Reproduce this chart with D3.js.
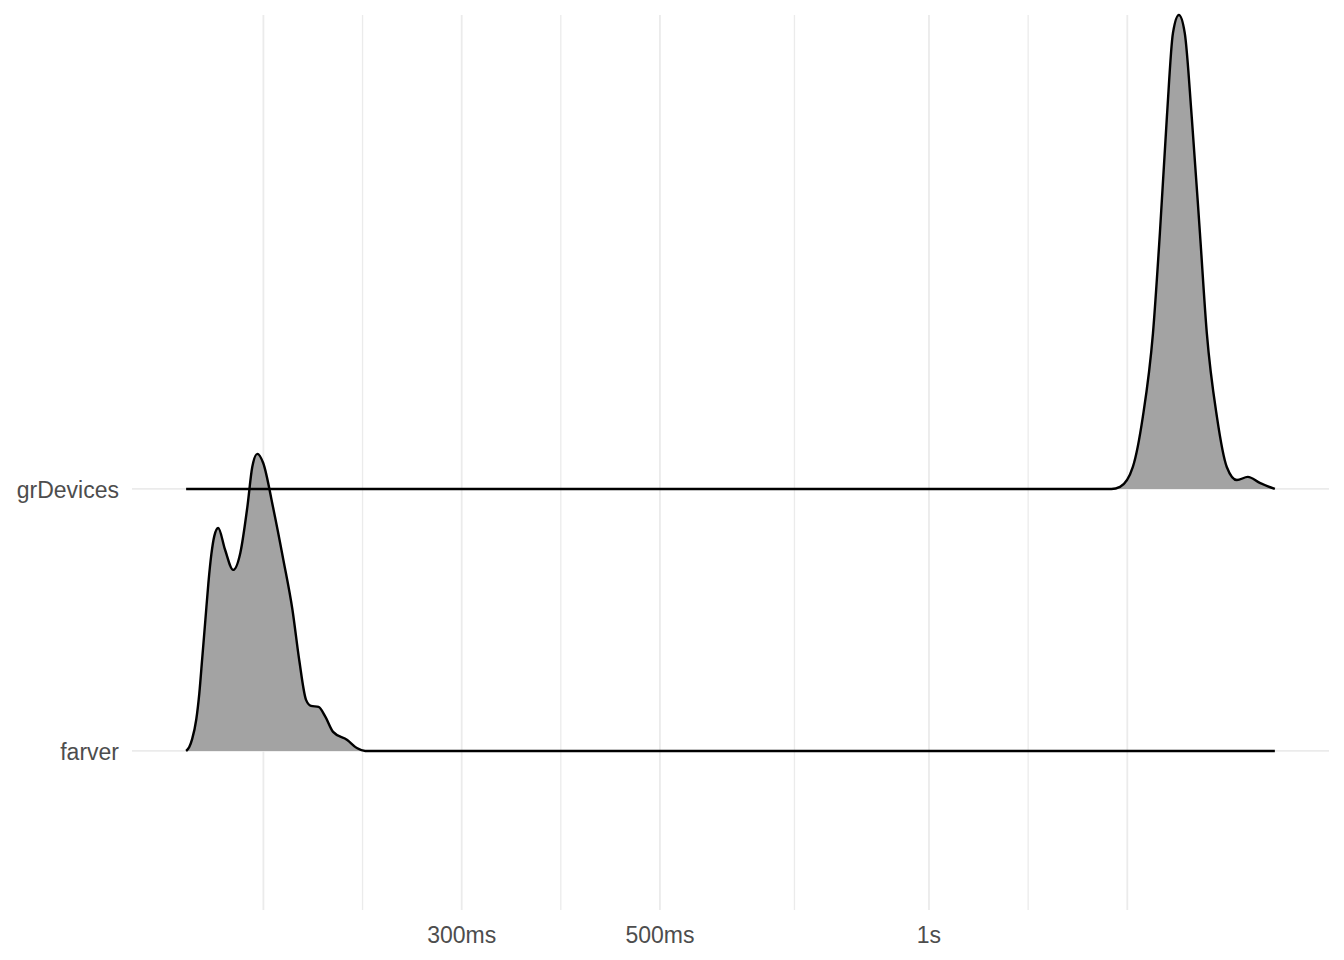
<!DOCTYPE html>
<html>
<head>
<meta charset="utf-8">
<script src="https://cdn.jsdelivr.net/npm/d3@7"></script>
<style>
  body { margin: 0; background: #fff; }
  text { font-family: "Liberation Sans", Arial, sans-serif; }
</style>
</head>
<body>
<div id="chart"></div>
<script>
var w = 1344, h = 960;

// categories, bottom to top
var groups = ["farver", "grDevices"];

// ridge outlines: [time in seconds, scaled height in row units]
var farverTime = [0.1475, 0.1487, 0.1498, 0.1514, 0.1526, 0.1538, 0.1550, 0.1562, 0.1574, 0.1586,
  0.1602, 0.1631, 0.1665, 0.1696, 0.1727, 0.1749, 0.1772, 0.1799, 0.1845, 0.1895, 0.1940,
  0.1974, 0.2009, 0.2035, 0.2075, 0.2112, 0.2154, 0.2234, 0.2290, 0.2340, 2.438];
var farverHeight = [0, 0.015, 0.045, 0.12, 0.22, 0.36, 0.50, 0.64, 0.75, 0.82,
  0.851, 0.767, 0.691, 0.756, 0.931, 1.084, 1.134, 1.099, 0.931, 0.729, 0.538,
  0.347, 0.195, 0.172, 0.168, 0.130, 0.073, 0.042, 0.011, 0, 0];

var grDevicesTime = [0.1475, 1.600, 1.636, 1.691, 1.735, 1.781, 1.813, 1.846, 1.875, 1.904,
  1.933, 1.968, 2.010, 2.046, 2.100, 2.154, 2.211, 2.274, 2.345, 2.438];
var grDevicesHeight = [0, 0, 0.008, 0.084, 0.275, 0.595, 0.977, 1.420, 1.740, 1.809,
  1.740, 1.420, 0.977, 0.595, 0.275, 0.084, 0.034, 0.046, 0.023, 0];

// x axis breaks
var tickValues = [0.18, 0.3, 0.5, 1, 1.667];
var tickLabels = ["", "300ms", "500ms", "1s", ""];

var series = [
  { name: "farver", time: farverTime, height: farverHeight },
  { name: "grDevices", time: grDevicesTime, height: grDevicesHeight }
];

var panelLeft = 132, panelRight = 1329, panelTop = 15, panelBottom = 910;

var x = d3.scaleLog().domain([0.1283, 2.803]).range([panelLeft, panelRight]);
var y = d3.scaleLinear().domain([0.393, 3.809]).range([panelBottom, panelTop]);

var svg = d3.select("#chart").append("svg")
  .attr("width", w)
  .attr("height", h);

// minor breaks: midpoints in log space
var minor = [];
for (var i = 0; i < tickValues.length - 1; i++) {
  minor.push(Math.sqrt(tickValues[i] * tickValues[i + 1]));
}

svg.append("g").selectAll("line")
  .data(minor)
  .enter().append("line")
  .attr("x1", function(d) { return x(d); })
  .attr("x2", function(d) { return x(d); })
  .attr("y1", panelTop).attr("y2", panelBottom)
  .attr("stroke", "#ebebeb").attr("stroke-width", 1.3);

svg.append("g").selectAll("line")
  .data(tickValues)
  .enter().append("line")
  .attr("x1", function(d) { return x(d); })
  .attr("x2", function(d) { return x(d); })
  .attr("y1", panelTop).attr("y2", panelBottom)
  .attr("stroke", "#ebebeb").attr("stroke-width", 1.8);

svg.append("g").selectAll("line")
  .data(groups)
  .enter().append("line")
  .attr("x1", panelLeft).attr("x2", panelRight)
  .attr("y1", function(d, i) { return y(i + 1); })
  .attr("y2", function(d, i) { return y(i + 1); })
  .attr("stroke", "#ebebeb").attr("stroke-width", 1.8);

// ridges
series.forEach(function(s, gi) {
  var pts = s.time.map(function(t, k) { return [t, s.height[k]]; });
  var base = gi + 1;
  var area = d3.area()
    .x(function(d) { return x(d[0]); })
    .y0(y(base))
    .y1(function(d) { return y(base + d[1]); })
    .curve(d3.curveMonotoneX);
  var line = d3.line()
    .x(function(d) { return x(d[0]); })
    .y(function(d) { return y(base + d[1]); })
    .curve(d3.curveMonotoneX);
  svg.append("path").datum(pts)
    .attr("d", area)
    .attr("fill", "#a3a3a3");
  svg.append("path").datum(pts)
    .attr("d", line)
    .attr("fill", "none")
    .attr("stroke", "#000")
    .attr("stroke-width", 2.4)
    .attr("stroke-linejoin", "round");
});

// y labels
svg.append("g").selectAll("text")
  .data(groups)
  .enter().append("text")
  .attr("x", 119)
  .attr("y", function(d, i) { return y(i + 1) + 1; })
  .attr("dy", "0.35em")
  .attr("text-anchor", "end")
  .attr("font-size", 23)
  .attr("fill", "#4d4d4d")
  .text(function(d) { return d; });

// x labels
svg.append("g").selectAll("text")
  .data(tickValues)
  .enter().append("text")
  .attr("x", function(d) { return x(d); })
  .attr("y", 935)
  .attr("dy", "0.35em")
  .attr("text-anchor", "middle")
  .attr("font-size", 23)
  .attr("fill", "#4d4d4d")
  .text(function(d, i) { return tickLabels[i]; });
</script>
</body>
</html>
